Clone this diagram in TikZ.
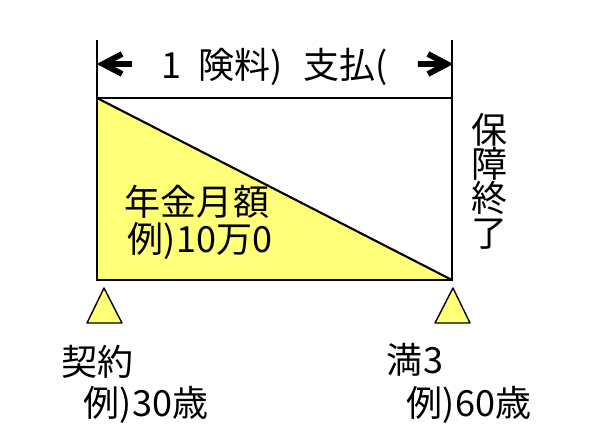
\documentclass[tikz,border=0pt]{standalone}
\usepackage{fontspec}
\setmainfont{Noto Sans CJK JP}
\usepackage{tikz}
\usetikzlibrary{shapes.geometric, arrows,positioning}
\definecolor{lightyel}{RGB}{255,255,120}

\begin{document}
\begin{tikzpicture}[x=0.02cm,y=-0.02cm,font=\fontsize{20.5}{24}\selectfont,
  lbl/.style={inner sep=0pt},
  dimarrow/.style={line width=3.3pt,line join=miter},
  agemark/.style={fill=lightyel,draw,line width=0.8pt,line join=round}]
\useasboundingbox (0,0) rectangle (600,444);
\coordinate (tl) at (97,98);
\coordinate (tr) at (452,98);
\coordinate (bl) at (97,280);
\coordinate (br) at (452,280);
\fill[lightyel] (tl) -- (br) -- (bl) -- cycle;
\draw[line width=1.2pt] (tl) rectangle (br);
\draw[line width=1.2pt] (tl) -- (br);
\draw[line width=1.2pt] (tl) -- (97,40);
\draw[line width=1.2pt] (tr) -- (452,40);
% arrows of the paying period
\draw[dimarrow] (122,54) -- (103,64) -- (122,74) (103,64) -- (132,64);
\draw[dimarrow] (428,54) -- (447,64) -- (428,74) (447,64) -- (418,64);
\node[lbl] (pay) at (275,67) {1\hspace{0.45em}険料)\hspace{0.6em}支払(};
\node[lbl] (pension) at (197,202) {年金月額};
\node[lbl] (amount) at (200,241) {例)10万0};
\node[lbl,align=center,font=\fontsize{20.5}{19.5}\selectfont] (end) at (490,181) {保\\障\\終\\了};
% start and end marks
\filldraw[agemark] (87,323) -- (104,288) -- (122,323) -- cycle;
\filldraw[agemark] (435,323) -- (453,288) -- (470,323) -- cycle;
\node[lbl] (start) at (98,362) {契約};
\node[lbl] (age30) at (146,405) {例)30歳};
\node[lbl] (full) at (415,360) {満3};
\node[lbl] (age60) at (469,405) {例)60歳};
\end{tikzpicture}
\end{document}
